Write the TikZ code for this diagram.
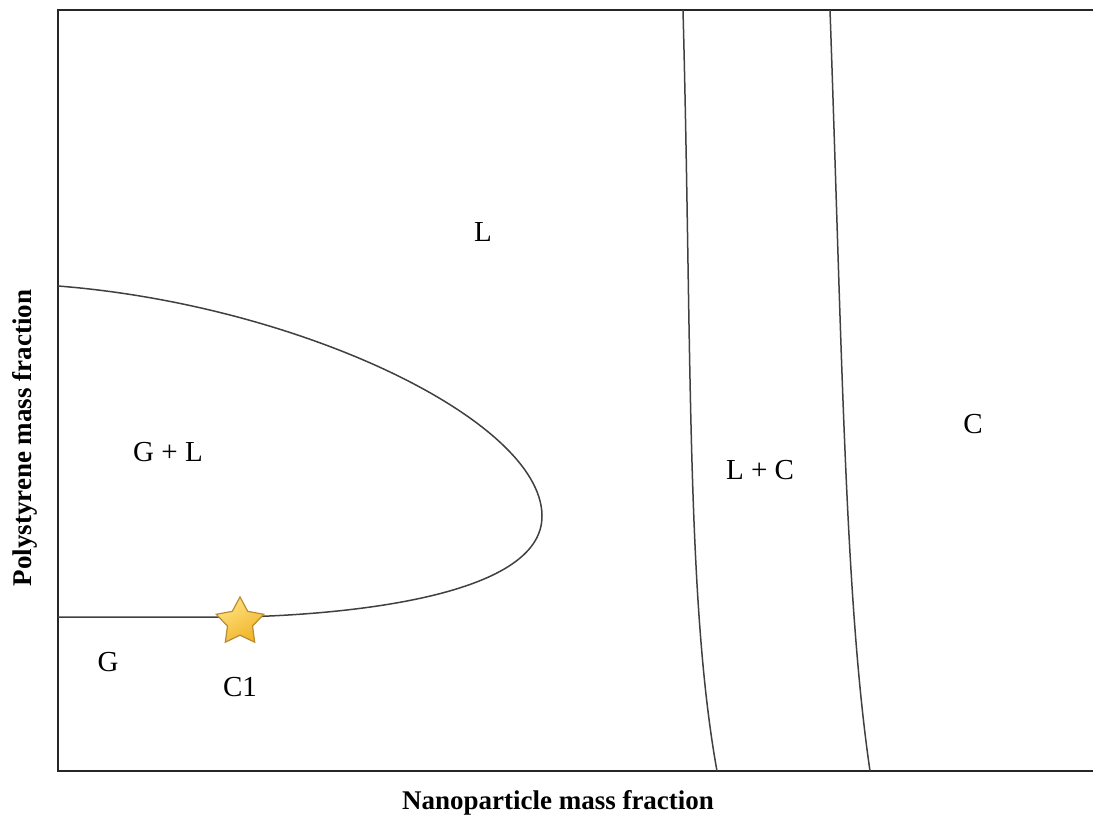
\documentclass[tikz,border=0pt]{standalone}
\usepackage{fontspec}
\setmainfont{Liberation Serif}
\usetikzlibrary{shapes.geometric}
\begin{document}
\begin{tikzpicture}[x=1pt,y=-1pt,
  frame/.style={line width=2.6pt,black!85},
  phase/.style={line width=1.5pt,black!75},
  region/.style={font=\fontsize{29}{32}\selectfont,inner sep=0pt},
  axislabel/.style={font=\fontsize{27}{30}\selectfont\bfseries,inner sep=0pt},
  starmark/.style={star,star points=5,star point ratio=1.9,minimum size=50pt,inner sep=0pt,
    shading=axis,top color={rgb,255:red,255;green,226;blue,130},bottom color={rgb,255:red,240;green,180;blue,40},shading angle=30,
    draw={rgb,255:red,185;green,140;blue,50},line width=1.2pt}]
\useasboundingbox (0,0) rectangle (1093,824);
% frame (open on the right)
\coordinate (tr) at (1095,10);
\coordinate (tl) at (58,10);
\coordinate (bl) at (58,771);
\coordinate (br) at (1095,771);
\draw[frame] (tr) -- (tl) -- (bl) -- (br);
% G / G+L boundary
\coordinate (a0) at (58,286);
\coordinate (tip) at (542,515);
\coordinate (c1) at (240,617);
\coordinate (a1) at (58,617);
\draw[phase] (a0) .. controls (300,305) and (540,420) .. (tip)
  .. controls (544,600) and (330,615) .. (c1) -- (a1);
% L / L+C and L+C / C boundaries
\coordinate (v1t) at (683,10);
\coordinate (v1b) at (717,771);
\coordinate (v2t) at (830,10);
\coordinate (v2b) at (870,771);
\draw[phase] (v1t) .. controls (692,350) and (686,600) .. (v1b);
\draw[phase] (v2t) .. controls (842,350) and (845,600) .. (v2b);
% star
\node[starmark] (star) at (240,622) {};
% labels
\node[region] (L) at (483,232) {L};
\node[region] (GL) at (168,452) {G + L};
\node[region] (LC) at (760,470) {L + C};
\node[region] (C) at (973,424) {C};
\node[region] (G) at (108,662) {G};
\node[region] (C1) at (240,687) {C1};
\node[axislabel] (xl) at (558,803) {Nanoparticle mass fraction};
\node[axislabel,rotate=90] (yl) at (25,438) {Polystyrene mass fraction};
\end{tikzpicture}
\end{document}
